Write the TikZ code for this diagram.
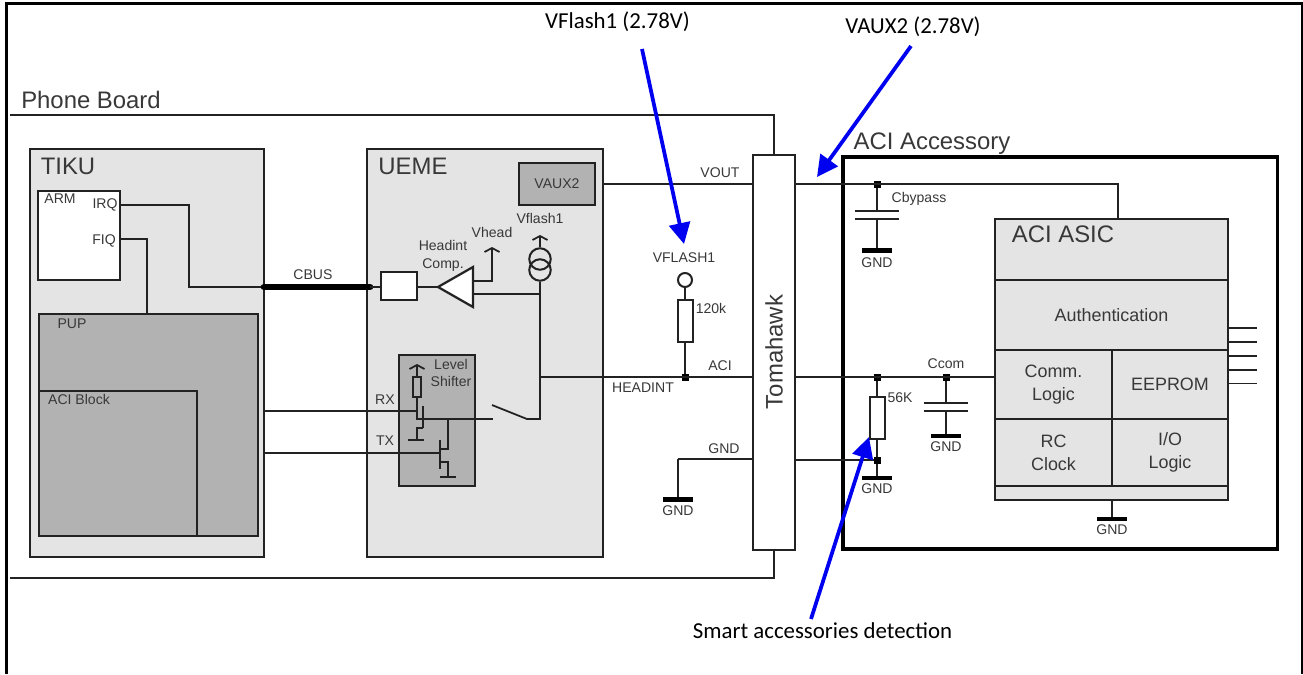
\documentclass[tikz,border=0pt]{standalone}
\usepackage{fontspec}
\setmainfont{Liberation Sans}
\newfontfamily\calloutfont{Carlito}
\usepackage{tikz}
\usetikzlibrary{arrows.meta}
\definecolor{myblockcolor}{HTML}{E4E4E4}
\definecolor{mydarkcolor}{HTML}{B2B2B2}
\definecolor{mylinecolor}{HTML}{222222}
\definecolor{mytextcolor}{HTML}{383838}
\definecolor{myarrowcolor}{HTML}{0000F0}
\tikzset{
  wire/.style={draw=mylinecolor, line width=0.035cm},
  blockbox/.style={draw=mylinecolor, rectangle, line width=0.04cm, inner sep=0pt, outer sep=0pt},
  resbox/.style={blockbox, fill=white, minimum width=0.3cm, minimum height=0.84cm},
  jointbox/.style={rectangle, fill=black, inner sep=0pt, outer sep=0pt, minimum size=0.14cm},
  plate/.style={rectangle, fill=mylinecolor, inner sep=0pt, outer sep=0pt, minimum width=0.88cm, minimum height=0.035cm},
  gndbar/.style={rectangle, fill=black, inner sep=0pt, outer sep=0pt, minimum width=0.6cm, minimum height=0.1cm},
  bigtext/.style={inner sep=0pt, text=mytextcolor, font=\fontsize{13.6pt}{13.6pt}\selectfont},
  midtext/.style={inner sep=0pt, text=mytextcolor, align=center, font=\fontsize{10.2pt}{13pt}\selectfont},
  smalltext/.style={inner sep=0pt, text=mytextcolor, align=center, font=\fontsize{8pt}{10pt}\selectfont},
  callout/.style={inner sep=0pt, text=black, font=\calloutfont\fontsize{13pt}{13pt}\selectfont},
  pointer/.style={draw=myarrowcolor, line width=0.075cm, -{Triangle[length=0.42cm,width=0.42cm]}},
  railup/.style={wire, -{Straight Barb[length=0.08cm,width=0.3cm]}},
}
\begin{document}
\begin{tikzpicture}[x=0.02cm, y=-0.02cm]%
\useasboundingbox (0,0) rectangle (1303,674);%
\draw[black, line width=0.06cm] (6.3,674) -- (6.3,3.5) -- (1302,3.5) -- (1302,674);%
\node[blockbox, fill=myblockcolor, minimum width=4.69cm, minimum height=8.16cm] (tiku) at (147.25,353) {};%
\node[blockbox, fill=white, minimum width=1.64cm, minimum height=1.78cm] (arm) at (79,235.5) {};%
\node[blockbox, fill=mydarkcolor, minimum width=4.4cm, minimum height=4.44cm] (pup) at (148.5,425) {};%
\node[blockbox, fill=mydarkcolor, minimum width=3.17cm, minimum height=2.9cm] (aciblock) at (117.75,463.5) {};%
\node[blockbox, fill=myblockcolor, minimum width=4.72cm, minimum height=8.16cm] (ueme) at (485,353) {};%
\node[blockbox, fill=mydarkcolor, minimum width=1.52cm, minimum height=0.84cm, smalltext] (vauxbox) at (557,184) {VAUX2};%
\node[blockbox, fill=white, minimum width=0.72cm, minimum height=0.56cm] (cbusbox) at (399,286) {};%
\node[blockbox, fill=mydarkcolor, minimum width=1.52cm, minimum height=2.62cm] (shifter) at (437,420.5) {};%
\node[blockbox, fill=white, minimum width=0.84cm, minimum height=7.9cm] (tomahawk) at (774,352.5) {};%
\node[blockbox, draw=black, line width=0.075cm, minimum width=8.69cm, minimum height=7.84cm] (acibox) at (1060.25,353) {};%
\node[blockbox, fill=myblockcolor, minimum width=4.66cm, minimum height=5.63cm] (asic) at (1111.5,359.25) {};%
\node[blockbox, midtext, minimum width=4.66cm, minimum height=1.4cm] (auth) at (1111.5,315) {Authentication};%
\node[blockbox, midtext, minimum width=2.34cm, minimum height=1.38cm] (comm) at (1053.5,384.5) {Comm.\\Logic};%
\node[blockbox, midtext, minimum width=2.32cm, minimum height=1.38cm] (eeprom) at (1170,384.5) {EEPROM};%
\node[blockbox, midtext, minimum width=2.34cm, minimum height=1.34cm] (rcclock) at (1053.5,452.5) {RC\\Clock};%
\node[blockbox, midtext, minimum width=2.32cm, minimum height=1.34cm] (iologic) at (1170,452.5) {I/O\\Logic};%
\node[bigtext] (boardlabel) at (91,100) {Phone Board};%
\node[bigtext] (tikulabel) at (68,166) {TIKU};%
\node[bigtext] (uemelabel) at (413,166) {UEME};%
\node[bigtext] (accessorylabel) at (932,144) {ACI Accessory};%
\node[bigtext] (asiclabel) at (1063,234) {ACI ASIC};%
\node[bigtext, rotate=90] (tomahawklabel) at (774,352) {Tomahawk};%
\node[smalltext] (armlabel) at (60,199) {ARM};%
\node[smalltext] (irqlabel) at (105,205) {IRQ};%
\node[smalltext] (fiqlabel) at (104,241) {FIQ};%
\node[smalltext] (puplabel) at (72,324) {PUP};%
\node[smalltext] (aciblocklabel) at (79,399) {ACI Block};%
\node[smalltext] (cbuslabel) at (313,275) {CBUS};%
\node[smalltext] (rxlabel) at (385,400) {RX};%
\node[smalltext] (txlabel) at (385,441) {TX};%
\node[smalltext] (headintcomp) at (443,256) {Headint\\Comp.};%
\node[smalltext] (vheadlabel) at (492,232) {Vhead};%
\node[smalltext] (vflashsmall) at (540,218) {Vflash1};%
\node[smalltext] (shifterlabel) at (451,373) {Level\\Shifter};%
\node[smalltext] (voutlabel) at (720,173) {VOUT};%
\node[smalltext] (flashlabel) at (684,258) {VFLASH1};%
\node[smalltext] (reslabel) at (711,308) {120k};%
\node[smalltext] (acilabel) at (720,366) {ACI};%
\node[smalltext] (headintlabel) at (643,388) {HEADINT};%
\node[smalltext] (gndrowlabel) at (724,449) {GND};%
\node[smalltext] (bypasslabel) at (919,199) {Cbypass};%
\node[smalltext] (ccomlabel) at (946,364) {Ccom};%
\node[smalltext] (detectlabel) at (900,398) {56K};%
\node[callout] (vflashtext) at (617.5,22) {VFlash1 (2.78V)};%
\node[callout] (vauxtext) at (913,27) {VAUX2 (2.78V)};%
\node[callout] (smarttext) at (822.5,631) {Smart accessories detection};%
\coordinate (boardtop) at (10,115);%
\coordinate (boardbot) at (10,578);%
\draw[wire] (boardtop) -| (tomahawk.north);%
\draw[wire] (boardbot) -| (tomahawk.south);%
\coordinate (irqpin) at (120,205);%
\coordinate (fiqpin) at (120,239);%
\coordinate (cbusleft) at (264,287);%
\coordinate (cbusright) at (370,287);%
\draw[wire] (irqpin) -- (189,205) |- (cbusleft);%
\draw[wire] (fiqpin) -| (pup.north -| 147,0);%
\draw[black, line width=0.135cm, line cap=round] (cbusleft) -- (cbusright);%
\draw[wire] (cbusright) -- (cbusbox.west |- cbusright);%
\coordinate (comptip) at (438,287);%
\coordinate (compup) at (473,267);%
\coordinate (compdown) at (473,307);%
\draw[wire] (cbusbox.east |- comptip) -- (comptip);%
\draw[wire, fill=white, line width=0.045cm] (comptip) -- (compup) -- (compdown) -- cycle;%
\draw[railup] (473,281) -| (492,247);%
\node[draw=mylinecolor, circle, line width=0.04cm, inner sep=0pt, minimum size=0.43cm] (srctop) at (540,259) {};%
\node[draw=mylinecolor, circle, line width=0.04cm, inner sep=0pt, minimum size=0.43cm] (srcbot) at (540,270) {};%
\draw[railup] (srctop.north) -- (540,235);%
\coordinate (srcjoint) at (540,377);%
\coordinate (switchend) at (492,405);%
\draw[wire] (srcbot.south) -- (540,419) -- (527,419) -- (switchend);%
\draw[wire] (473,294) -| (srcbot.south);%
\node[jointbox] (headjoint) at (685,377) {};%
\node[jointbox] (restop) at (877,377) {};%
\node[jointbox] (ccomjoint) at (946,377) {};%
\node[jointbox] (cbyjoint) at (877,184) {};%
\node[jointbox] (resbot) at (877,460) {};%
\draw[wire] (srcjoint) -- (tomahawk.west |- srcjoint);%
\draw[wire] (tomahawk.east |- srcjoint) -- (comm.west |- srcjoint);%
\draw[wire] (ueme.east |- cbyjoint) -- (tomahawk.west |- cbyjoint);%
\coordinate (asicin) at (1118,218.5);%
\draw[wire] (tomahawk.east |- cbyjoint) -| (asicin);%
\node[draw=mylinecolor, circle, line width=0.04cm, inner sep=0pt, minimum size=0.28cm] (flashpin) at (685,280) {};%
\node[resbox] (flashres) at (685,321) {};%
\draw[wire] (flashpin) -- (flashres);%
\draw[wire] (flashres) -- (headjoint);%
\node[resbox] (detectres) at (877,418) {};%
\draw[wire] (restop) -- (detectres);%
\draw[wire] (detectres) -- (resbot);%
\node[gndbar, minimum height=0.07cm] (gndres) at (877,478) {};%
\node[smalltext] (gndreslabel) at (877,489) {GND};%
\draw[wire] (resbot) -- (gndres);%
\draw[wire] (tomahawk.east |- resbot) -- (resbot);%
\coordinate (gndturn) at (678,459);%
\draw[wire] (tomahawk.west |- gndturn) -- (gndturn);%
\node[gndbar] (gndleft) at (678,499) {};%
\node[smalltext] (gndleftlabel) at (678,511) {GND};%
\draw[wire] (gndturn) -- (gndleft);%
\node[plate] (cbytop) at (877,211) {};%
\node[plate] (cbybot) at (877,219) {};%
\node[gndbar] (gndby) at (877,250) {};%
\node[smalltext] (gndbylabel) at (877,263) {GND};%
\draw[wire] (cbyjoint) -- (cbytop);%
\draw[wire] (cbybot) -- (gndby);%
\node[plate] (ccomtop) at (946,403) {};%
\node[plate] (ccombot) at (946,411) {};%
\node[gndbar, minimum height=0.07cm] (gndcom) at (946,436) {};%
\node[smalltext] (gndcomlabel) at (946,447) {GND};%
\draw[wire] (ccomjoint) -- (ccomtop);%
\draw[wire] (ccombot) -- (gndcom);%
\node[gndbar, minimum height=0.07cm] (gndasic) at (1112,519) {};%
\node[smalltext] (gndasiclabel) at (1112,530) {GND};%
\draw[wire] (asic.south -| gndasic) -- (gndasic);%
\draw[wire] (asic.east |- 0,328) -- ++(29,0);%
\draw[wire] (asic.east |- 0,342) -- ++(29,0);%
\draw[wire] (asic.east |- 0,356) -- ++(29,0);%
\draw[wire] (asic.east |- 0,370) -- ++(29,0);%
\draw[wire] (asic.east |- 0,383.5) -- ++(29,0);%
\node[blockbox, fill=none, minimum width=0.16cm, minimum height=0.4cm] (shiftres) at (417,387) {};%
\draw[railup] (shiftres.north) -- (417,364);%
\coordinate (rxjoint) at (417,419);%
\coordinate (switchleft) at (493,419);%
\draw[wire] (shiftres.south) -- (rxjoint) -- (switchleft);%
\draw[wire] (tiku.east |- 0,411) -- (417,411);%
\draw[wire] (tiku.east |- 0,453) -- (440,453);%
\draw[wire] (423,406) -- (423,428);%
\draw[wire] (423,428) -- (417,428) -- (417,440);%
\draw[wire] (408,440) -- (424,440);%
\draw[wire] (440,440) -- (440,469);%
\draw[wire] (448,419) -- (448,449) -- (440,449);%
\draw[wire] (440,462) -- (448,462) -- (448,477);%
\draw[wire] (440,477) -- (456,477);%
\coordinate (flashtail) at (642,49);%
\coordinate (flashtip) at (684,244);%
\coordinate (auxtail) at (911,46);%
\coordinate (auxtip) at (817,177);%
\coordinate (smarttail) at (811,619);%
\coordinate (smarttip) at (869,437);%
\draw[pointer] (flashtail) -- (flashtip);%
\draw[pointer] (auxtail) -- (auxtip);%
\draw[pointer] (smarttail) -- (smarttip);%
\end{tikzpicture}
\end{document}
